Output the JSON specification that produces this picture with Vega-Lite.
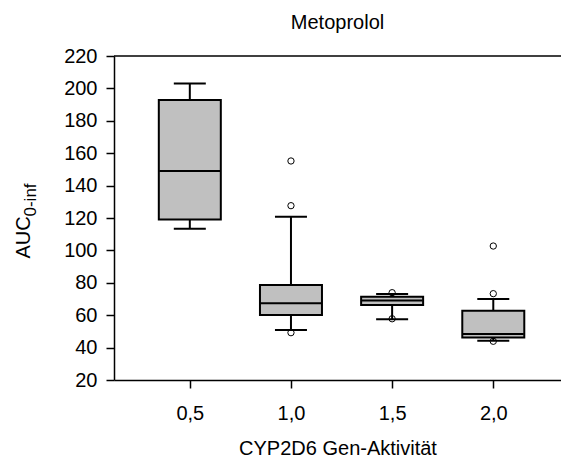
{
  "$schema": "https://vega.github.io/schema/vega-lite/v6.json",
  "autosize": {"type": "none"},
  "padding": {"left": 114, "top": 56, "right": 0, "bottom": 78},
  "width": 447,
  "height": 324,
  "config": {
    "font": "Liberation Sans",
    "view": {"stroke": null},
    "axis": {
      "domainColor": "black", "tickColor": "black", "labelColor": "black", "titleColor": "black",
      "grid": false, "domainWidth": 1.5, "tickWidth": 1.5, "tickSize": 8,
      "labelFontSize": 20, "titleFontSize": 20, "titleFontWeight": "normal",
      "labelFont": "Liberation Sans", "titleFont": "Liberation Sans"
    }
  },
  "title": {"text": "Metoprolol", "fontSize": 20, "fontWeight": "normal", "color": "black", "offset": 13, "anchor": "middle", "font": "Liberation Sans"},
  "datasets": {
    "boxes": [
      {"g": 0.5, "lo": 113.4, "q1": 119.0, "med": 149.0, "q3": 192.8, "hi": 203.1},
      {"g": 1.0, "lo": 50.9, "q1": 60.1, "med": 67.3, "q3": 78.6, "hi": 120.8},
      {"g": 1.5, "lo": 57.5, "q1": 66.3, "med": 69.0, "q3": 71.4, "hi": 73.1},
      {"g": 2.0, "lo": 44.3, "q1": 46.3, "med": 48.4, "q3": 62.8, "hi": 70.0}
    ],
    "outliers": [
      {"g": 1.0, "v": 155.2}, {"g": 1.0, "v": 127.6}, {"g": 1.0, "v": 49.2},
      {"g": 1.5, "v": 73.9}, {"g": 1.5, "v": 57.8},
      {"g": 2.0, "v": 102.7}, {"g": 2.0, "v": 73.3}, {"g": 2.0, "v": 43.9}
    ]
  },
  "layer": [
    {
      "data": {"name": "boxes"},
      "mark": {"type": "rule", "color": "black", "strokeWidth": 2},
      "encoding": {
        "x": {"field": "g", "type": "quantitative", "scale": {"domain": [0.15, 2.31], "nice": false, "zero": false},
          "axis": {"values": [0.5, 1, 1.5, 2], "labelExpr": "replace(format(datum.value,'.1f'),'.',',')", "labelPadding": 15, "title": "CYP2D6 Gen-Aktivität", "titlePadding": 15}},
        "y": {"field": "lo", "type": "quantitative", "scale": {"domain": [20, 220], "nice": false, "zero": false},
          "axis": {"values": [20, 40, 60, 80, 100, 120, 140, 160, 180, 200, 220], "labelPadding": 9, "title": "AUC", "titleX": -85, "titleY": 202, "titleAlign": "left", "titleBaseline": "alphabetic", "titleAngle": -90}},
        "y2": {"field": "hi"}
      }
    },
    {
      "data": {"name": "boxes"},
      "mark": {"type": "tick", "orient": "horizontal", "size": 32, "thickness": 2, "color": "black", "opacity": 1},
      "encoding": {
        "x": {"field": "g", "type": "quantitative", "scale": {"domain": [0.15, 2.31], "nice": false, "zero": false}},
        "y": {"field": "lo", "type": "quantitative", "scale": {"domain": [20, 220], "nice": false, "zero": false}, "axis": null}
      }
    },
    {
      "data": {"name": "boxes"},
      "mark": {"type": "tick", "orient": "horizontal", "size": 32, "thickness": 2, "color": "black", "opacity": 1},
      "encoding": {
        "x": {"field": "g", "type": "quantitative", "scale": {"domain": [0.15, 2.31], "nice": false, "zero": false}},
        "y": {"field": "hi", "type": "quantitative", "scale": {"domain": [20, 220], "nice": false, "zero": false}, "axis": null}
      }
    },
    {
      "data": {"name": "boxes"},
      "mark": {"type": "bar", "width": 62, "fill": "#c0c0c0", "stroke": "black", "strokeWidth": 2, "opacity": 1},
      "encoding": {
        "x": {"field": "g", "type": "quantitative", "scale": {"domain": [0.15, 2.31], "nice": false, "zero": false}},
        "y": {"field": "q1", "type": "quantitative", "scale": {"domain": [20, 220], "nice": false, "zero": false}, "axis": null},
        "y2": {"field": "q3"}
      }
    },
    {
      "data": {"name": "boxes"},
      "mark": {"type": "tick", "orient": "horizontal", "size": 61, "thickness": 2, "color": "black", "opacity": 1},
      "encoding": {
        "x": {"field": "g", "type": "quantitative", "scale": {"domain": [0.15, 2.31], "nice": false, "zero": false}},
        "y": {"field": "med", "type": "quantitative", "scale": {"domain": [20, 220], "nice": false, "zero": false}, "axis": null}
      }
    },
    {
      "data": {"name": "outliers"},
      "mark": {"type": "point", "shape": "circle", "filled": false, "size": 40, "stroke": "black", "strokeWidth": 1, "opacity": 1},
      "encoding": {
        "x": {"field": "g", "type": "quantitative", "scale": {"domain": [0.15, 2.31], "nice": false, "zero": false}},
        "y": {"field": "v", "type": "quantitative", "scale": {"domain": [20, 220], "nice": false, "zero": false},
          "axis": {"orient": "left", "labels": false, "ticks": false, "domain": false, "title": "0-inf", "titleFontSize": 17, "titleX": -79, "titleY": 160, "titleAlign": "left", "titleBaseline": "alphabetic", "titleAngle": -90}}
      }
    },
    {
      "data": {"values": [{}]},
      "mark": {"type": "rule", "color": "black", "strokeWidth": 1.5},
      "encoding": {
        "y": {"datum": 220, "type": "quantitative", "scale": {"domain": [20, 220], "nice": false, "zero": false}, "axis": null}
      }
    }
  ],
  "resolve": {"axis": {"y": "independent"}}
}
